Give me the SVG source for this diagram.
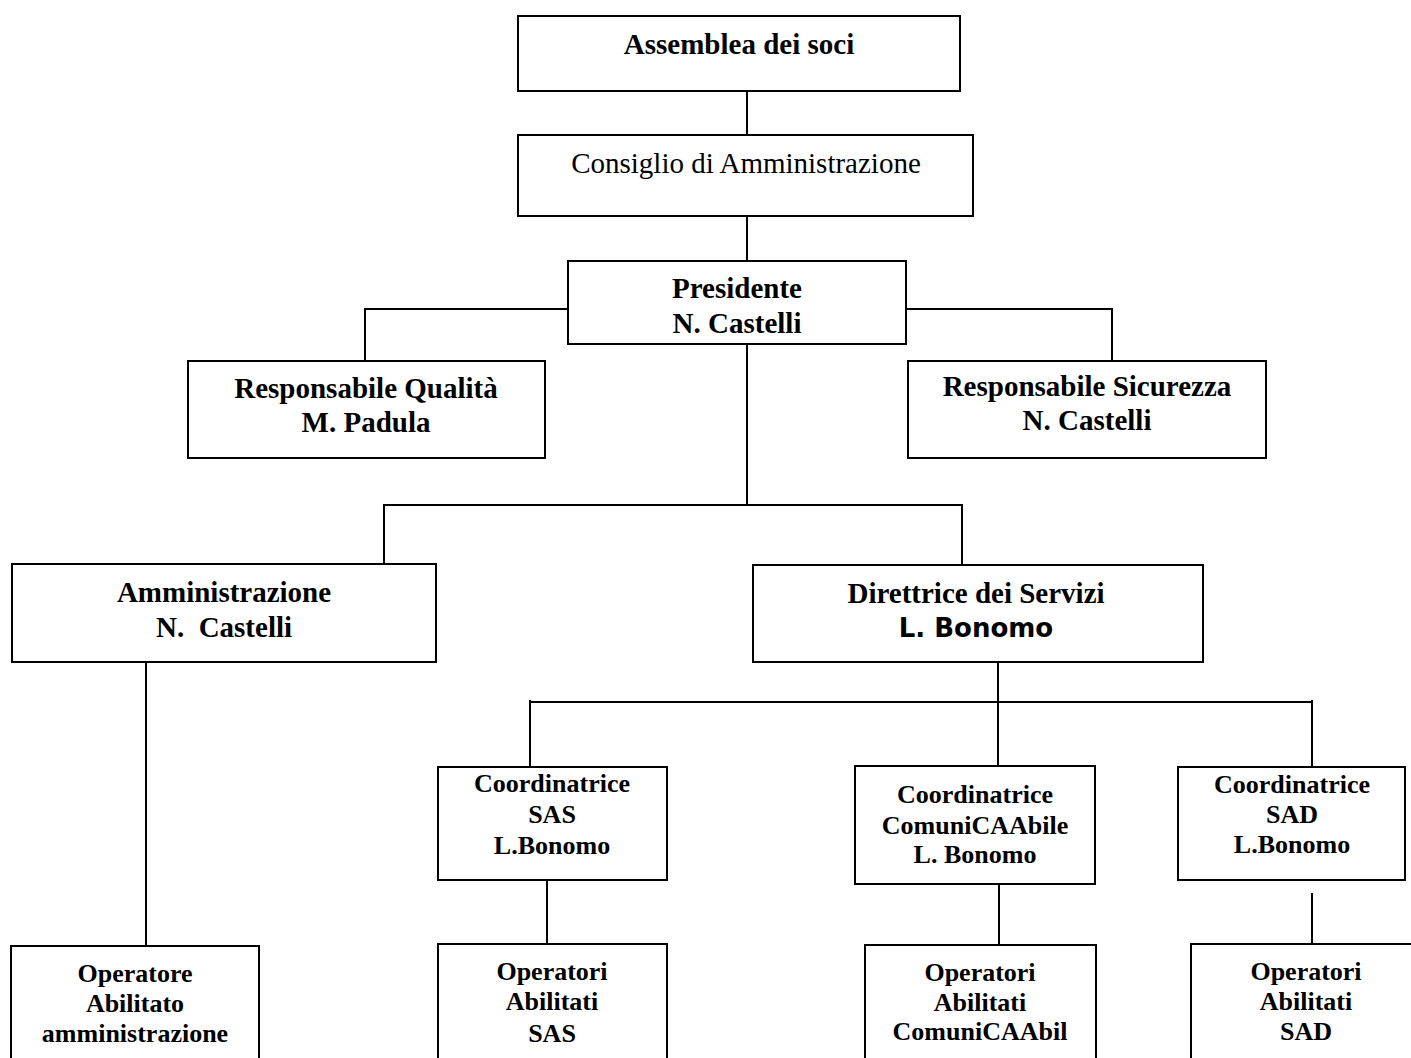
<svg xmlns="http://www.w3.org/2000/svg" width="1411" height="1058" viewBox="0 0 1411 1058">
<style>
.box{fill:#fff;stroke:#000;stroke-width:2}
.ln{fill:none;stroke:#000;stroke-width:2}
.t{font-family:"Liberation Serif","Times New Roman",serif;font-weight:bold;font-size:29px;fill:#000;text-anchor:middle}
.r{font-weight:normal}
.s{font-family:"Liberation Serif","Times New Roman",serif;font-weight:bold;font-size:26px;fill:#000;text-anchor:middle}
.v{font-family:"DejaVu Sans",Verdana,sans-serif;font-weight:bold;font-size:26px;fill:#000;text-anchor:middle}
</style>
<rect width="1411" height="1058" fill="#fff"/>
<g id="connectors">
<path class="ln" d="M747,91 V135"/>
<path class="ln" d="M747,216 V261"/>
<path class="ln" d="M568,309 H365 V361"/>
<path class="ln" d="M906,309 H1112 V361"/>
<path class="ln" d="M747,344 V505"/>
<path class="ln" d="M384,564 V505 H962 V565"/>
<path class="ln" d="M146,662 V946"/>
<path class="ln" d="M998,662 V766"/>
<path class="ln" d="M530,767 V700 M529,702 H1313 M1312,700 V767"/>
<path class="ln" d="M547,880 V944"/>
<path class="ln" d="M999,884 V945"/>
<path class="ln" d="M1312,893 V944"/>
</g>
<g id="assemblea">
<rect class="box" x="518" y="16" width="442" height="75"/>
<text class="t" x="739" y="54">Assemblea dei soci</text>
</g>
<g id="consiglio">
<rect class="box" x="518" y="135" width="455" height="81"/>
<text class="t r" x="746" y="173">Consiglio di Amministrazione</text>
</g>
<g id="presidente">
<rect class="box" x="568" y="261" width="338" height="83"/>
<text class="t" x="737" y="298">Presidente</text>
<text class="t" x="737" y="333">N. Castelli</text>
</g>
<g id="resp-qualita">
<rect class="box" x="188" y="361" width="357" height="97"/>
<text class="t" x="366" y="398">Responsabile Qualità</text>
<text class="t" x="366" y="432">M. Padula</text>
</g>
<g id="resp-sicurezza">
<rect class="box" x="908" y="361" width="358" height="97"/>
<text class="t" x="1087" y="396">Responsabile Sicurezza</text>
<text class="t" x="1087" y="430">N. Castelli</text>
</g>
<g id="amministrazione">
<rect class="box" x="12" y="564" width="424" height="98"/>
<text class="t" x="224" y="602">Amministrazione</text>
<text class="t" x="224" y="637">N.&#160; Castelli</text>
</g>
<g id="direttrice">
<rect class="box" x="753" y="565" width="450" height="97"/>
<text class="t" x="976" y="603">Direttrice dei Servizi</text>
<text class="v" x="976" y="637">L. Bonomo</text>
</g>
<g id="coord-sas">
<rect class="box" x="438" y="767" width="229" height="113"/>
<text class="s" x="552" y="792">Coordinatrice</text>
<text class="s" x="552" y="823">SAS</text>
<text class="s" x="552" y="854">L.Bonomo</text>
</g>
<g id="coord-comunicaabile">
<rect class="box" x="855" y="766" width="240" height="118"/>
<text class="s" x="975" y="803">Coordinatrice</text>
<text class="s" x="975" y="834">ComuniCAAbile</text>
<text class="s" x="975" y="863">L. Bonomo</text>
</g>
<g id="coord-sad">
<rect class="box" x="1178" y="767" width="227" height="113"/>
<text class="s" x="1292" y="793">Coordinatrice</text>
<text class="s" x="1292" y="823">SAD</text>
<text class="s" x="1292" y="853">L.Bonomo</text>
</g>
<g id="op-amministrazione">
<rect class="box" x="11" y="946" width="248" height="130"/>
<text class="s" x="135" y="982">Operatore</text>
<text class="s" x="135" y="1012">Abilitato</text>
<text class="s" x="135" y="1042">amministrazione</text>
</g>
<g id="op-sas">
<rect class="box" x="438" y="944" width="229" height="130"/>
<text class="s" x="552" y="980">Operatori</text>
<text class="s" x="552" y="1010">Abilitati</text>
<text class="s" x="552" y="1042">SAS</text>
</g>
<g id="op-comunicaabile">
<rect class="box" x="865" y="945" width="231" height="130"/>
<text class="s" x="980" y="981">Operatori</text>
<text class="s" x="980" y="1011">Abilitati</text>
<text class="s" x="980" y="1040">ComuniCAAbil</text>
</g>
<g id="op-sad">
<rect class="box" x="1191" y="944" width="229" height="130"/>
<text class="s" x="1306" y="980">Operatori</text>
<text class="s" x="1306" y="1010">Abilitati</text>
<text class="s" x="1306" y="1040">SAD</text>
</g>
</svg>
